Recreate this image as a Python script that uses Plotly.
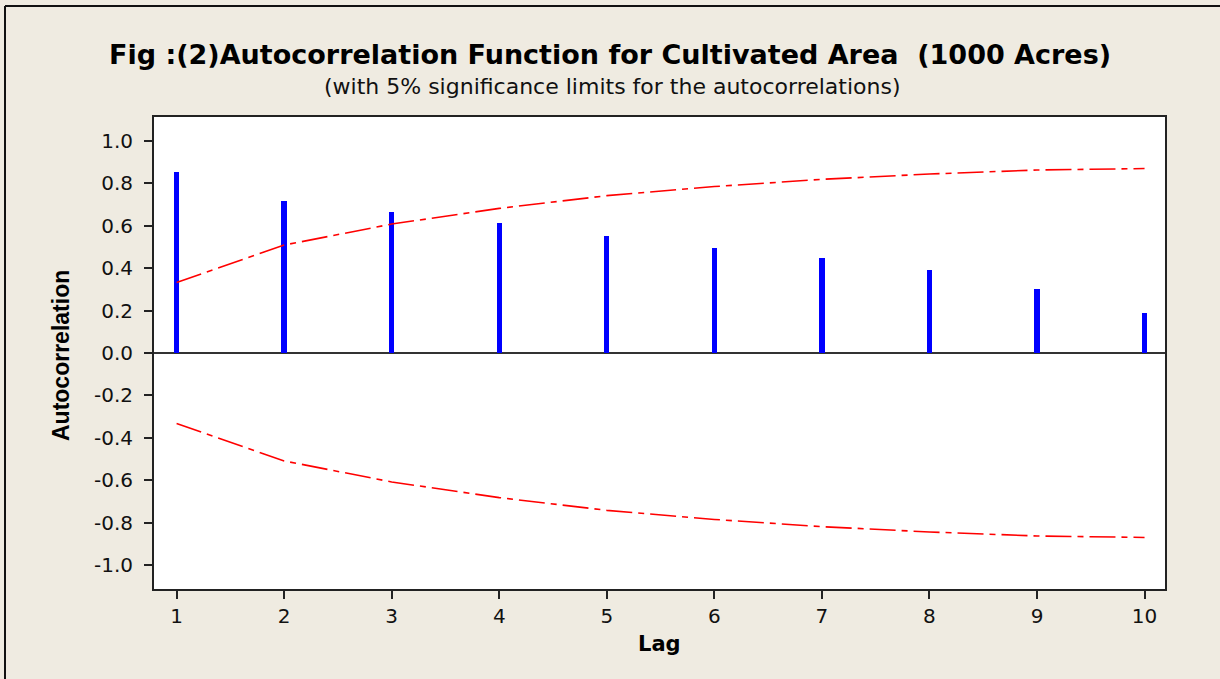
import plotly.graph_objects as go

# ---- data ----
lags = [1, 2, 3, 4, 5, 6, 7, 8, 9, 10]
acf = [0.853, 0.718, 0.665, 0.612, 0.552, 0.494, 0.447, 0.392, 0.300, 0.187]
upper_limit = [0.332, 0.509, 0.608, 0.682, 0.742, 0.785, 0.819, 0.844, 0.863, 0.870]
lower_limit = [-v for v in upper_limit]

y_tick_vals = [1.0, 0.8, 0.6, 0.4, 0.2, 0.0, -0.2, -0.4, -0.6, -0.8, -1.0]
y_tick_text = ["1.0", "0.8", "0.6", "0.4", "0.2", "0.0", "-0.2", "-0.4", "-0.6", "-0.8", "-1.0"]
x_tick_vals = lags
x_tick_text = [str(v) for v in lags]

title_text = "Fig :(2)Autocorrelation Function for Cultivated Area  (1000 Acres)"
subtitle_text = "(with 5% significance limits for the autocorrelations)"
x_title = "Lag"
y_title = "Autocorrelation"

BG = "#EFEBE1"
W, H = 1220, 679
L, R, T, B = 154, 55, 117, 90
PW, PH = W - L - R, H - T - B


def px(x):
    return (x - L) / PW


def py(y):
    return (H - B - y) / PH


fig = go.Figure()

fig.add_trace(go.Bar(
    x=lags, y=acf, width=0.05,
    marker=dict(color="#0000FF", line=dict(width=0)),
    showlegend=False, hoverinfo="x+y",
))

dash = "26px,6px,6px,6px"
fig.add_trace(go.Scatter(
    x=lags, y=upper_limit, mode="lines",
    line=dict(color="#FF0000", width=1.6, dash=dash),
    showlegend=False,
))
fig.add_trace(go.Scatter(
    x=lags, y=lower_limit, mode="lines",
    line=dict(color="#FF0000", width=1.6, dash=dash),
    showlegend=False,
))

tick_font = dict(family="DejaVu Sans", size=20, color="#111111")

fig.update_layout(
    width=W, height=H,
    margin=dict(l=L, r=R, t=T, b=B, pad=0),
    paper_bgcolor=BG,
    plot_bgcolor="#FFFFFF",
    bargap=0,
    xaxis=dict(
        range=[0.79, 10.19],
        tickvals=x_tick_vals, ticktext=x_tick_text,
        ticks="outside", ticklen=8, tickwidth=1.5, tickcolor="#222222",
        showline=True, linecolor="#222222", linewidth=2, mirror=True,
        showgrid=False, zeroline=False,
        tickfont=tick_font,
    ),
    yaxis=dict(
        range=[-1.113, 1.113],
        tickvals=y_tick_vals, ticktext=y_tick_text,
        ticks="outside", ticklen=8, tickwidth=1.5, tickcolor="#222222",
        ticklabelstandoff=7,
        showline=True, linecolor="#222222", linewidth=2, mirror=True,
        showgrid=False,
        zeroline=True, zerolinecolor="#333333", zerolinewidth=1.5,
        tickfont=tick_font,
    ),
    annotations=[
        dict(text="<b>" + title_text + "</b>", x=px(610), y=py(55),
             xref="paper", yref="paper", xanchor="center", yanchor="middle",
             showarrow=False, font=dict(family="DejaVu Sans", size=27, color="#000000")),
        dict(text=subtitle_text, x=px(612), y=py(86),
             xref="paper", yref="paper", xanchor="center", yanchor="middle",
             showarrow=False, font=dict(family="DejaVu Sans", size=22, color="#111111")),
        dict(text="<b>" + x_title + "</b>", x=px(659), y=py(644),
             xref="paper", yref="paper", xanchor="center", yanchor="middle",
             showarrow=False, font=dict(family="DejaVu Sans", size=21, color="#000000")),
        dict(text="<b>" + y_title + "</b>", x=px(61), y=py(356), textangle=-90,
             xref="paper", yref="paper", xanchor="center", yanchor="middle",
             showarrow=False, font=dict(family="Liberation Sans", size=23, color="#000000")),
    ],
    shapes=[
        dict(type="line", xref="paper", yref="paper",
             x0=px(5), x1=px(5), y0=py(700), y1=py(6),
             line=dict(color="#111111", width=2)),
        dict(type="line", xref="paper", yref="paper",
             x0=px(5), x1=px(1240), y0=py(6), y1=py(6),
             line=dict(color="#111111", width=2)),
    ],
)

fig.write_html("out.html")
